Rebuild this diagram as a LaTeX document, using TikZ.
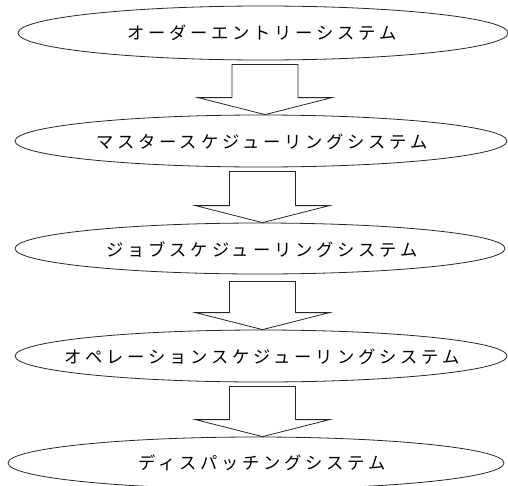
\documentclass[tikz,border=0pt]{standalone}
\usepackage{fontspec}
\newfontfamily\jpfont[LetterSpace=22]{Noto Sans CJK JP}
\usetikzlibrary{shapes.geometric,calc}
\tikzset{
  sysbox/.style={ellipse, draw=black!85, line width=0.8pt, inner sep=0pt},
  arrowbox/.style={draw=black!85, line width=0.8pt, line join=miter},
  lbl/.style={font=\jpfont\fontsize{17.3pt}{19pt}\selectfont}
}
\newcommand\blockarrow[2]{%
  \draw[arrowbox] ($(#1)+(-33,0)$) -- ($(#1)+(33,0)$) -- ($(#2)+(33,-17)$)
    -- ($(#2)+(67,-17)$) -- (#2) -- ($(#2)+(-67,-17)$) -- ($(#2)+(-33,-17)$) -- cycle;}
\begin{document}
\begin{tikzpicture}[x=1pt,y=-1pt]
\useasboundingbox (0,0) rectangle (508,485);
\node[sysbox, minimum width=490, minimum height=54] (e1) at (263,33) {};
\node[lbl] (t1) at (262,33) {オーダーエントリーシステム};
\node[sysbox, minimum width=492, minimum height=52] (e2) at (261,141) {};
\node[lbl] (t2) at (262,142) {マスタースケジューリングシステム};
\node[sysbox, minimum width=490, minimum height=51] (e3) at (260,248.5) {};
\node[lbl] (t3) at (262,250) {ジョブスケジューリングシステム};
\node[sysbox, minimum width=492, minimum height=52] (e4) at (261,356) {};
\node[lbl] (t4) at (262,357) {オペレーションスケジューリングシステム};
\node[sysbox, minimum width=496, minimum height=52] (e5) at (256,463) {};
\node[lbl] (t5) at (262,463) {ディスパッチングシステム};
\coordinate (a1s) at ($(e1.south)+(2,4)$);
\coordinate (a1t) at (e2.north -| a1s);
\coordinate (a2s) at ($(e2.south)+(1.5,4)$);
\coordinate (a2t) at (e3.north -| a2s);
\coordinate (a3s) at ($(e3.south)+(2.5,7)$);
\coordinate (a3t) at (e4.north -| a3s);
\coordinate (a4s) at ($(e4.south)+(1.5,4)$);
\coordinate (a4t) at (e5.north -| a4s);
\blockarrow{a1s}{a1t}
\blockarrow{a2s}{a2t}
\blockarrow{a3s}{a3t}
\blockarrow{a4s}{a4t}
\end{tikzpicture}
\end{document}
